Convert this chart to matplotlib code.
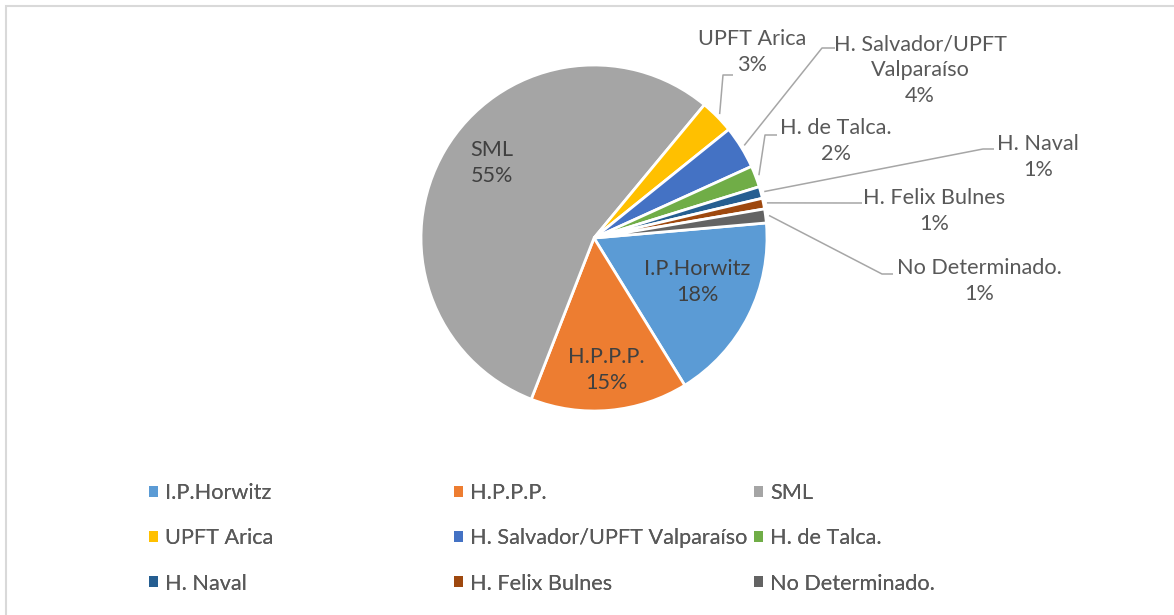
"""Pie chart of cases by institution (Excel-style)."""
import numpy as np
import matplotlib
matplotlib.use('Agg')
import matplotlib.pyplot as plt
from matplotlib.patches import Rectangle

plt.rcParams['font.family'] = ['Lato', 'DejaVu Sans']

# data
labels = ['I.P.Horwitz', 'H.P.P.P.', 'SML', 'UPFT Arica',
          'H. Salvador/UPFT Valparaíso', 'H. de Talca.', 'H. Naval',
          'H. Felix Bulnes', 'No Determinado.']
values = [17.6, 14.7, 55.1, 3.2, 4.0, 2.0, 1.1, 1.0, 1.3]
colors = ['#5B9BD5', '#ED7D31', '#A5A5A5', '#FFC000', '#4472C4',
          '#70AD47', '#255E91', '#9E480E', '#636363']

W, H = 1174, 615
TXT = '#595959'
FS = 15.6


def px(x, y):
    """Convert pixel coords (top-left origin) to data coords."""
    return x, H - y


fig = plt.figure(figsize=(W / 100, H / 100), dpi=100)
ax = fig.add_axes([0, 0, 1, 1])
cx, cy = px(594, 238)
R = 173
wedges, _ = ax.pie(values, colors=colors, startangle=5, counterclock=False,
                   center=(cx, cy), radius=R,
                   wedgeprops=dict(edgecolor='white', linewidth=2))
ax.set_xlim(0, W)
ax.set_ylim(0, H)
ax.set_aspect('equal')
ax.axis('off')

# chart border (only top and left edges visible)
ax.add_patch(Rectangle(px(5.5, 630), 1200, 624, fill=False,
                       edgecolor='#D9D9D9', linewidth=1.5))

pct = ['{:.0f}%'.format(v) for v in values]
lab_txt = [l for l in labels]
lab_txt[4] = 'H. Salvador/UPFT\nValparaíso'

# label centres in pixels
text_pos = [(697, 282), (606, 370), (492, 163), (752, 52), (920, 70),
            (836, 141), (1038, 157), (934, 211), (979, 281)]
# leader elbow / end for outside labels
leaders = {3: [(723, 75), (733, 75)],
           4: [(822, 48), (835, 48)],
           5: [(765, 135), (777, 135)],
           6: [(983, 149), (994, 149)],
           7: [(850, 203), (862, 203)],
           8: [(882, 274), (893, 274)]}

for i, w in enumerate(wedges):
    tx, ty = px(*text_pos[i])
    col = '#404040' if i < 3 else TXT
    ax.text(tx, ty, lab_txt[i] + '\n' + pct[i], ha='center', va='center',
            fontsize=FS, color=col, linespacing=1.36)
    if i in leaders:
        mid = np.deg2rad((w.theta1 + w.theta2) / 2)
        sx = cx + R * 1.02 * np.cos(mid)
        sy = cy + R * 1.02 * np.sin(mid)
        pts = [px(*p) for p in leaders[i]]
        xs = [sx] + [p[0] for p in pts]
        ys = [sy] + [p[1] for p in pts]
        ax.plot(xs, ys, color='#A6A6A6', linewidth=1.1, solid_capstyle='butt')

# legend: three columns, filled row by row
col_x = [149, 454, 754]
for j in range(3):
    idx = [j, j + 3, j + 6]
    leg = fig.legend([wedges[k] for k in idx], [labels[k] for k in idx],
                     loc='upper left', bbox_to_anchor=(col_x[j] / W, 1 - 483 / H),
                     frameon=False, fontsize=FS, labelcolor=TXT,
                     handlelength=0.4, handleheight=0.4, handletextpad=0.35,
                     labelspacing=1.17, borderpad=0, borderaxespad=0)
    for h in leg.legend_handles:
        h.set_edgecolor('none')
    fig.add_artist(leg)

fig.savefig('out.png', dpi=100, facecolor='white')
